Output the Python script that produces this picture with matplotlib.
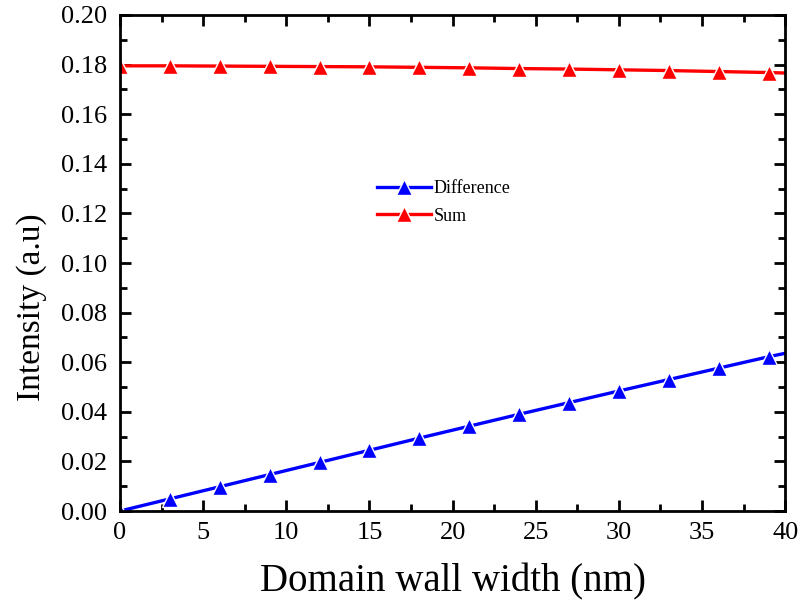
import matplotlib
matplotlib.use("Agg")
import matplotlib.pyplot as plt
from matplotlib.ticker import MultipleLocator

plt.rcParams['font.family'] = ['Liberation Serif', 'DejaVu Serif']

x = [0, 3, 6, 9, 12, 15, 18, 21, 24, 27, 30, 33, 36, 39, 40]
difference = [0.0, 0.0049, 0.0098, 0.0147, 0.0196, 0.0245, 0.0294, 0.0342,
              0.0390, 0.0437, 0.0484, 0.0530, 0.0576, 0.0622, 0.0636]
total = [0.1795, 0.1795, 0.1794, 0.1793, 0.1792, 0.1791, 0.1789, 0.1787,
         0.1784, 0.1782, 0.1779, 0.1776, 0.1772, 0.1768, 0.1766]

fig = plt.figure(figsize=(8.02, 6.12), dpi=100)
ax = fig.add_axes([0.1496, 0.165, 0.8294, 0.8105])

mk = list(range(len(x) - 1))
ax.plot(x, difference, color='#0000ff', lw=2.4, marker='^', ms=11,
        mec='white', mew=1.0, markevery=mk, label='Difference')
ax.plot(x, total, color='#ff0000', lw=2.4, marker='^', ms=11,
        mec='white', mew=1.0, markevery=mk, label='Sum')

ax.set_xlim(0, 40)
ax.set_ylim(0, 0.20)
ax.xaxis.set_major_locator(MultipleLocator(5))
ax.xaxis.set_minor_locator(MultipleLocator(2.5))
ax.yaxis.set_major_locator(MultipleLocator(0.02))
ax.yaxis.set_minor_locator(MultipleLocator(0.01))
ax.yaxis.set_major_formatter(plt.FormatStrFormatter('%.2f'))

ax.tick_params(which='both', direction='in', top=True, right=True, width=2,
               labelsize=19)
ax.tick_params(which='major', length=8)
ax.tick_params(which='minor', length=5)
ax.tick_params(axis='x', pad=8)
ax.tick_params(axis='y', pad=9)
for s in ax.spines.values():
    s.set_linewidth(2)

ax.set_xlabel('Domain wall width (nm)', fontsize=28, labelpad=14)
ax.set_ylabel('Intensity (a.u)', fontsize=24)
ax.yaxis.set_label_coords(-0.11, 0.41)

ax.legend(loc='upper left', bbox_to_anchor=(0.375, 0.682), frameon=False,
          fontsize=13, handlelength=3.0, handletextpad=0.15, labelspacing=0.6,
          borderaxespad=0)

fig.savefig('out.png', dpi=100)
